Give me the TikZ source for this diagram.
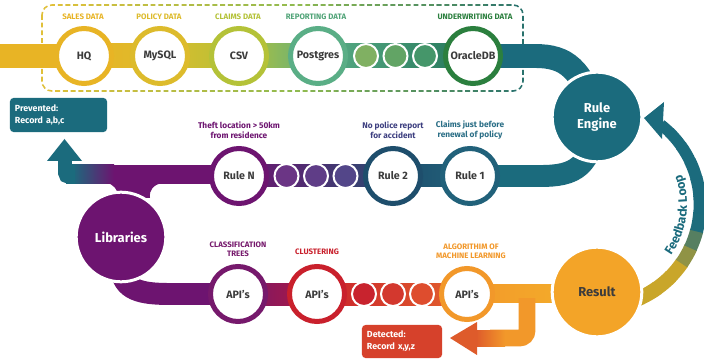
\documentclass[tikz,border=0pt]{standalone}
\usepackage{fontspec}
\setmainfont{Fira Sans}
\usetikzlibrary{backgrounds,calc,decorations.text}

\definecolor{cGoldA}{HTML}{E8B425}
\definecolor{cGoldB}{HTML}{DDBB2C}
\definecolor{cLime}{HTML}{B4C238}
\definecolor{cSea}{HTML}{5AAE86}
\definecolor{cGrA}{HTML}{80B062}
\definecolor{cGrB}{HTML}{62A465}
\definecolor{cGrC}{HTML}{45966A}
\definecolor{cOracle}{HTML}{2B7F3E}
\definecolor{cTeal}{HTML}{1B6B7D}
\definecolor{cRuleA}{HTML}{21617A}
\definecolor{cRuleB}{HTML}{1E4E6C}
\definecolor{cViA}{HTML}{6B3585}
\definecolor{cViB}{HTML}{5F3D87}
\definecolor{cViC}{HTML}{534689}
\definecolor{cPurple}{HTML}{6D1470}
\definecolor{cApiP}{HTML}{76196C}
\definecolor{cCrimson}{HTML}{B0173F}
\definecolor{cRed}{HTML}{C9202C}
\definecolor{cRdA}{HTML}{C8232E}
\definecolor{cRdB}{HTML}{D3382E}
\definecolor{cRdC}{HTML}{DE4D2E}
\definecolor{cOrange}{HTML}{F2982A}
\definecolor{cResult}{HTML}{F3A428}
\definecolor{cYellowO}{HTML}{F4B22A}
\definecolor{cDetect}{HTML}{D6412B}
\definecolor{cFbGold}{HTML}{C9A62A}
\definecolor{cText}{HTML}{3C3C3C}
\definecolor{cDashY}{HTML}{E0C03A}
\definecolor{cDashG}{HTML}{8FBA50}
\definecolor{cDashT}{HTML}{1E6A70}
\definecolor{cNavyV}{HTML}{3D3F80}
\definecolor{cTealL}{HTML}{2A6E86}

\tikzset{
  ringnode/.style={circle, inner sep=0pt, minimum size=1.375cm, draw=#1,
    line width=3.55pt, fill=white, text=cText,
    font=\fontsize{7.6}{9}\selectfont\bfseries},
  dotnode/.style={circle, inner sep=0pt, minimum size=0.6cm, draw=white,
    line width=1.42pt, fill=#1},
  hubnode/.style={circle, inner sep=0pt, minimum size=2.24cm, draw=white,
    line width=2.13pt, fill=#1, text=white, align=center,
    font=\fontsize{9.2}{11}\selectfont\bfseries},
  toplabel/.style={text=#1, align=center,
    font=\fontsize{5.6}{6.6}\selectfont\bfseries},
  rulelabel/.style={text=#1, align=center,
    font=\fontsize{5.9}{6.8}\selectfont\bfseries},
  recbox/.style={rounded corners=2.5pt, fill=#1, text=white, align=left,
    inner xsep=0.125cm, inner ysep=0pt,
    font=\fontsize{6.3}{8.5}\selectfont\bfseries},
  bandtop/.style={line width=17pt},
  bandmid/.style={line width=15.6pt},
}

\begin{document}
\begin{tikzpicture}[x=0.025cm, y=-0.025cm]
\useasboundingbox (0,0) rectangle (704,360);

% ---------- data sources ----------
\node[ringnode=cGoldA]  (HQ)  at (84,56)  {HQ};
\node[ringnode=cGoldB]  (MY)  at (160,56) {MySQL};
\node[ringnode=cLime]   (CSV) at (239,56) {CSV};
\node[ringnode=cSea]    (PG)  at (318,56) {Postgres};
\node[dotnode=cGrA]     (gA)  at (366,56) {};
\node[dotnode=cGrB]     (gB)  at (395.5,56) {};
\node[dotnode=cGrC]     (gC)  at (425,56) {};
\node[ringnode=cOracle] (ODB) at (473,56) {OracleDB};

\node[toplabel=cGoldA]  (lSales) at (83,17)  {SALES DATA};
\node[toplabel=cGoldB]  (lPol)   at (159,17) {POLICY DATA};
\node[toplabel=cLime]   (lClm)   at (238,17) {CLAIMS DATA};
\node[toplabel=cSea!80!cOracle] (lRep) at (316,17) {REPORTING DATA};
\node[toplabel=cOracle] (lUnd)   at (475,17) {UNDERWRITING DATA};

% ---------- hubs ----------
\node[hubnode=cTeal]   (RE)  at (597,117) {Rule\\Engine};
\node[hubnode=cPurple] (Lib) at (121,237) {Libraries};
\node[hubnode=cResult, text=cText] (Res) at (597,292) {Result};

% ---------- rules ----------
\node[ringnode=cRuleA]  (R1) at (470,176) {Rule 1};
\node[ringnode=cRuleB]  (R2) at (393,176) {Rule 2};
\node[dotnode=cViC]     (vC) at (345.5,176) {};
\node[dotnode=cViB]     (vB) at (316,176) {};
\node[dotnode=cViA]     (vA) at (286.5,176) {};
\node[ringnode=cPurple] (RN) at (239,176) {Rule N};

\node[rulelabel=cPurple] (lRN) at (239,130) {Theft location > 50km\\from residence};
\node[rulelabel=cNavyV]  (lR2) at (393,130) {No police report\\for accident};
\node[rulelabel=cTealL]  (lR1) at (470,130) {Claims just before\\renewal of policy};

% ---------- APIs ----------
\node[ringnode=cApiP]  (A1) at (238,294) {API's};
\node[ringnode=cRed]   (A2) at (317,294) {API's};
\node[dotnode=cRdA]    (dA) at (364,294) {};
\node[dotnode=cRdB]    (dB) at (393,294) {};
\node[dotnode=cRdC]    (dC) at (422,294) {};
\node[ringnode=cOrange, minimum size=1.275cm] (A3) at (467,294) {API's};

\node[toplabel=cApiP]   (lA1) at (238,249) {CLASSIFICATION\\TREES};
\node[toplabel=cRed]    (lA2) at (317,252) {CLUSTERING};
\node[toplabel=cOrange] (lA3) at (471,251) {ALGORITHIM OF\\MACHINE LEARNING};

% ---------- outcome boxes ----------
\node[recbox=cTeal, text width=2.175cm, minimum height=0.85cm] (prev) at (58.5,115)
  {Prevented:\\Record a,b,c};
\node[recbox=cDetect, text width=1.75cm, minimum height=0.825cm] (det) at (402,341.5)
  {Detected:\\Record x,y,z};

% ---------- feedback loop geometry ----------
\coordinate (fbc) at (598,205);
\coordinate (fbtip) at (644,118);

\begin{pgfonlayer}{background}
  \fill[white] (0,0) rectangle (704,360);

  % dashed frame round the data sources, coloured from yellow to teal
  \foreach \i in {0,...,19}{
    \pgfmathsetmacro\xa{36+25*\i}
    \pgfmathsetmacro\xb{\xa+26}
    \ifnum\i<10
      \pgfmathtruncatemacro\mix{100-10*\i}
      \colorlet{dashcol}{cDashY!\mix!cDashG}
    \else
      \pgfmathtruncatemacro\mix{100-10*(\i-10)}
      \colorlet{dashcol}{cDashG!\mix!cDashT}
    \fi
    \begin{scope}
      \clip (\xa,0) rectangle (\xb,100);
      \draw[dashcol, line width=1.1pt, dash pattern=on 3.5pt off 2pt,
            rounded corners=7pt] (42,5) rectangle (523,91);
    \end{scope}
  }

  % top band: sources into the rule engine
  \fill[cGoldA] (0,44) rectangle ($(HQ)+(0,12)$);
  \fill[left color=cGoldA, right color=cGoldB] ($(HQ)+(0,-12)$) rectangle ($(MY)+(0,12)$);
  \fill[left color=cGoldB, right color=cLime] ($(MY)+(0,-12)$) rectangle ($(CSV)+(0,12)$);
  \fill[left color=cLime, right color=cSea!85!cGrA] ($(CSV)+(0,-12)$) rectangle ($(PG)+(0,12)$);
  \fill[left color=cSea, right color=cOracle!55!cTeal] ($(PG)+(0,-12)$) rectangle ($(ODB)+(0,12)$);
  \draw[cTeal, bandtop] (ODB.center) -- (535,56) .. controls (566,56) and (582,68) .. (RE.center);

  % middle band: rule engine through the rules
  \draw[cTeal, bandmid] (R1.center) -- (540,176) .. controls (575,176) and (592,168) .. (RE.center);
  \fill[left color=cRuleB, right color=cRuleA] ($(R2)+(0,-11)$) rectangle ($(R1)+(0,11)$);
  \fill[left color=cPurple, right color=cRuleB!80!cViC] ($(RN)+(0,-11)$) rectangle ($(R2)+(0,11)$);
  \fill[cPurple] (113,165) rectangle ($(RN)+(0,8)$);
  \fill[left color=cTeal, right color=cPurple] (72,165) rectangle (114,184);
  \fill[cTeal] (66,165) rectangle (75,184);
  \draw[cTeal, line width=9.9pt, rounded corners=3pt] (75,177) -- (65,177) -- (65,159);
  \fill[cTeal] (47,161) -- (64.5,139) -- (82,161) -- cycle;

  % libraries joined to the middle band
  \fill[cPurple] (106,183) .. controls (114,184) and (117,189) .. (119,198)
     -- (150,198) .. controls (149,190) and (153,185) .. (162,183) -- cycle;

  % bottom band: libraries through the APIs to the result
  \draw[cPurple, bandmid] (Lib.center) -- (121,268) .. controls (123,290) and (140,294) .. (170,294) -- (A1.center);
  \fill[left color=cApiP, right color=cCrimson] ($(A1)+(0,-11)$) rectangle ($(A2)+(0,11)$);
  \fill[left color=cRed, right color=cRdC!70!cOrange] ($(A2)+(0,-11)$) rectangle ($(A3)+(0,11)$);
  \fill[left color=cOrange, right color=cYellowO] ($(A3)+(0,-10)$) rectangle ($(Res)+(0,10)$);

  % branch down to the detected records
  \draw[cOrange, line width=11.8pt, rounded corners=5pt] (527,298) -- (527,338) -- (490,338);
  \fill[left color=cDetect!70!cOrange, right color=cOrange] (476,330) rectangle (505,346);
  \fill[cDetect!70!cOrange] (477,322) -- (450,338) -- (477,355) -- cycle;

  % feedback loop from the result back to the rule engine
  \foreach \i in {0,...,12}{
    \pgfmathsetmacro\aa{75-10*\i}
    \pgfmathsetmacro\ab{max(\aa-10.6,-52)}
    \pgfmathsetmacro\lw{10.6-0.22*\i}
    \pgfmathtruncatemacro\mix{min(100,max(0,(\i-3)*33))}
    \colorlet{fbcol}{cTeal!\mix!cFbGold}
    \draw[fbcol, line width=\lw pt] ($(fbc)+(\aa:102)$) arc[start angle=\aa, end angle=\ab, radius=102];
  }
  \fill[cTeal] (664,102) -- (fbtip) -- (662,139) -- cycle;
\end{pgfonlayer}

% feedback label set along the inside of the loop
\path[decorate, decoration={text along path, text align=center,
      text={|\fontsize{8.8}{10}\selectfont\bfseries\color{cTeal}|Feedback Loop}}]
  ($(fbc)+(55:89)$) arc[start angle=55, end angle=-40, radius=89];
\end{tikzpicture}
\end{document}
